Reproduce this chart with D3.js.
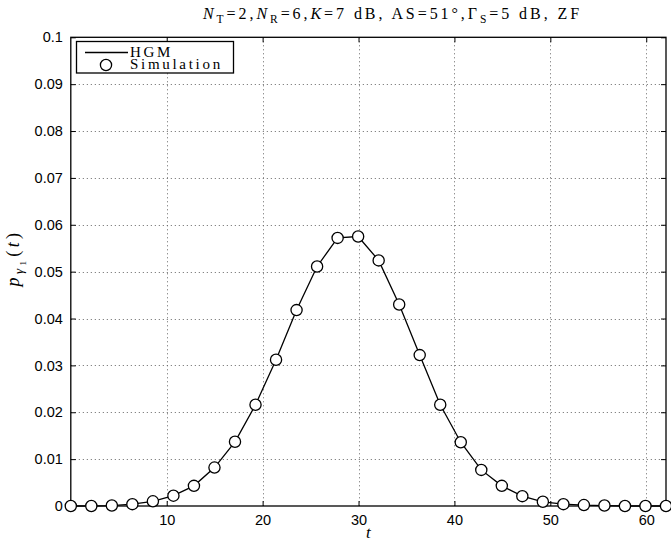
<!DOCTYPE html>
<html>
<head>
<meta charset="utf-8">
<script src="https://cdn.jsdelivr.net/npm/d3@7"></script>
<style>
  html, body { margin: 0; padding: 0; background: #fff; }
  svg { display: block; }
</style>
</head>
<body>
<svg id="chart" width="671" height="544"></svg>
<script>
// Sample points t (spacing 2.14) and the PDF values of gamma_1
const tValues = [0, 2.14, 4.28, 6.42, 8.56, 10.7, 12.84, 14.98, 17.12, 19.26,
  21.4, 23.54, 25.68, 27.82, 29.96, 32.1, 34.24, 36.38, 38.52, 40.66,
  42.8, 44.94, 47.08, 49.22, 51.36, 53.5, 55.64, 57.78, 59.92, 62.06];
const hgmValues = [0, 0, 0.0001, 0.0004, 0.0010, 0.0022, 0.0043, 0.0082, 0.0137, 0.0216,
  0.0312, 0.0418, 0.0511, 0.0572, 0.0575, 0.0524, 0.0430, 0.0322, 0.0216, 0.0136,
  0.0077, 0.0043, 0.0021, 0.0009, 0.0004, 0.0002, 0.0001, 0, 0, 0];
const simValues = [0, 0, 0.0001, 0.0004, 0.0010, 0.0022, 0.0043, 0.0082, 0.0137, 0.0216,
  0.0312, 0.0418, 0.0511, 0.0572, 0.0575, 0.0524, 0.0430, 0.0322, 0.0216, 0.0136,
  0.0077, 0.0043, 0.0021, 0.0009, 0.0004, 0.0002, 0.0001, 0, 0, 0];
const xTicks = [10, 20, 30, 40, 50, 60];
const yTicks = [0, 0.01, 0.02, 0.03, 0.04, 0.05, 0.06, 0.07, 0.08, 0.09, 0.1];
const yTickLabels = ["0", "0.01", "0.02", "0.03", "0.04", "0.05", "0.06", "0.07", "0.08", "0.09", "0.1"];
const seriesNames = ["HGM", "Simulation"];

const svg = d3.select("#chart");
const plotL = 70.8, plotR = 666, plotT = 37.3, plotB = 506;

const x = d3.scaleLinear().domain([0, 62.06]).range([plotL, plotR]);
const y = d3.scaleLinear().domain([0, 0.1]).range([plotB, plotT]);

const sans = "'Liberation Sans', Arial, Helvetica, sans-serif";
const serif = "'Liberation Serif', 'Times New Roman', serif";

// Spread a text's letters so that it spans the given width
function spreadTo(sel, width) {
  const node = sel.node();
  const natural = node.getComputedTextLength();
  const n = node.textContent.length;
  sel.attr("letter-spacing", Math.max(0, (width - natural) / n));
}

// Dotted grid
const grid = svg.append("g").attr("stroke", "#666").attr("stroke-width", 1)
  .attr("stroke-dasharray", "1,3");
xTicks.forEach(v => grid.append("line")
  .attr("x1", Math.round(x(v)) + 0.5).attr("x2", Math.round(x(v)) + 0.5)
  .attr("y1", plotT).attr("y2", plotB));
yTicks.filter(v => v > 0 && v < 0.1).forEach(v => grid.append("line")
  .attr("x1", plotL).attr("x2", plotR)
  .attr("y1", Math.round(y(v)) + 0.5).attr("y2", Math.round(y(v)) + 0.5));

// Axes with inward ticks on all four sides
const tickLen = 5;
const xBottom = svg.append("g").attr("transform", `translate(0,${plotB})`)
  .call(d3.axisBottom(x).tickValues(xTicks).tickSize(-tickLen).tickPadding(10).tickSizeOuter(0));
const xTop = svg.append("g").attr("transform", `translate(0,${plotT})`)
  .call(d3.axisTop(x).tickValues(xTicks).tickSize(-tickLen).tickFormat("").tickSizeOuter(0));
const yLeft = svg.append("g").attr("transform", `translate(${plotL},0)`)
  .call(d3.axisLeft(y).tickValues(yTicks).tickSize(-tickLen).tickPadding(8).tickSizeOuter(0)
    .tickFormat((d, i) => yTickLabels[i]));
const yRight = svg.append("g").attr("transform", `translate(${plotR},0)`)
  .call(d3.axisRight(y).tickValues(yTicks).tickSize(-tickLen).tickFormat("").tickSizeOuter(0));

[xBottom, xTop, yLeft, yRight].forEach(g => {
  g.select(".domain").remove();
  g.selectAll(".tick line").attr("stroke", "#000").attr("stroke-width", 1);
  g.selectAll(".tick text").attr("font-family", sans).attr("font-size", 14.5).attr("fill", "#000");
});
xBottom.selectAll(".tick text").attr("dy", "0.6em");

// Frame
svg.append("rect").attr("x", plotL).attr("y", plotT)
  .attr("width", plotR - plotL).attr("height", plotB - plotT)
  .attr("fill", "none").attr("stroke", "#000").attr("stroke-width", 1.3);

// HGM curve
const pts = tValues.map((t, i) => [t, hgmValues[i]]);
svg.append("path").datum(pts)
  .attr("fill", "none").attr("stroke", "#000").attr("stroke-width", 1.3)
  .attr("d", d3.line().x(d => x(d[0])).y(d => y(d[1])));

// Simulation markers
svg.append("g").selectAll("circle").data(tValues.map((t, i) => [t, simValues[i]]))
  .join("circle")
  .attr("cx", d => x(d[0])).attr("cy", d => y(d[1])).attr("r", 5.6)
  .attr("fill", "#fff").attr("stroke", "#000").attr("stroke-width", 1.3);

// Legend
const lg = svg.append("g");
lg.append("rect").attr("x", 76.5).attr("y", 41.5).attr("width", 157).attr("height", 31.5)
  .attr("fill", "#fff").attr("stroke", "#000").attr("stroke-width", 1.3);
lg.append("line").attr("x1", 85).attr("x2", 128).attr("y1", 52.5).attr("y2", 52.5)
  .attr("stroke", "#000").attr("stroke-width", 1.3);
lg.append("circle").attr("cx", 106).attr("cy", 65).attr("r", 5.6)
  .attr("fill", "#fff").attr("stroke", "#000").attr("stroke-width", 1.3);
lg.selectAll("text.lbl").data(seriesNames).join("text").attr("class", "lbl")
  .attr("x", 130).attr("y", (d, i) => 56.5 + i * 12.8)
  .attr("font-family", serif).attr("font-size", 15).attr("letter-spacing", 2.7)
  .text(d => d);

// Title with math subscripts
const title = svg.append("text").attr("x", 203).attr("y", 18.5)
  .attr("font-family", serif).attr("font-size", 16);
const parts = [
  ["N", "i"], ["T", "s"], ["=2,", ""], ["N", "i"], ["R", "s"], ["=6,", ""],
  ["K", "i"], ["=7 dB, AS=51°,Γ", ""], ["S", "s"], ["=5 dB, ZF", ""]
];
parts.forEach(([txt, kind]) => {
  const ts = title.append("tspan").text(txt);
  if (kind === "i") ts.attr("font-style", "italic");
  if (kind === "s") ts.attr("baseline-shift", "-4").attr("font-size", 11.5);
});
spreadTo(title, 379);

// Axis labels
svg.append("text").attr("x", (plotL + plotR) / 2).attr("y", 538)
  .attr("text-anchor", "middle").attr("font-family", serif).attr("font-style", "italic")
  .attr("font-size", 17).text("t");

const yl = svg.append("text").attr("transform", "translate(19,258) rotate(-90)")
  .attr("text-anchor", "middle").attr("font-family", serif).attr("font-size", 18);
yl.append("tspan").attr("font-style", "italic").text("p");
yl.append("tspan").attr("font-style", "italic").attr("font-size", 13).attr("baseline-shift", "-4").text("γ");
yl.append("tspan").attr("font-size", 9).attr("baseline-shift", "-7").text("1");
yl.append("tspan").attr("dx", 1).text("(");
yl.append("tspan").attr("font-style", "italic").text("t");
yl.append("tspan").text(")");
spreadTo(yl, 56);
</script>
</body>
</html>
